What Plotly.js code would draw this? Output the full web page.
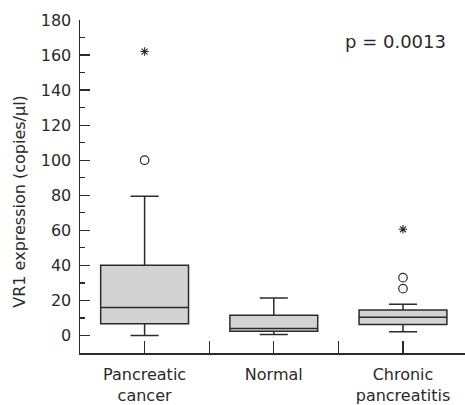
<!DOCTYPE html>
<html>
<head>
<meta charset="utf-8">
<script src="https://cdn.plot.ly/plotly-3.0.1.min.js"></script>
<style>html,body{margin:0;padding:0;background:#fff;}#chart{width:465px;height:405px;}</style>
</head>
<body>
<div id="chart"></div>
<script>
var categories = ["Pancreatic<br>cancer", "Normal", "Chronic<br>pancreatitis"];
var positions = [0, 1, 2];
var lowerWhisker = [0, 0.6, 2.1];
var q1 = [6.7, 2.4, 6.2];
var median = [16, 4.0, 10.4];
var q3 = [40, 11.5, 14.6];
var upperWhisker = [79.5, 21.4, 17.8];
var circleX = [0, 2, 2];
var circleY = [100, 26.7, 33];
var starX = [0, 2];
var starY = [162, 60.6];
var yTicks = [0, 20, 40, 60, 80, 100, 120, 140, 160, 180];

var lineCol = "#2b2b2b";
var font = "'DejaVu Sans', sans-serif";

var traces = [];
for (var i = 0; i < positions.length; i++) {
  traces.push({
    type: "box",
    x: [positions[i]],
    q1: [q1[i]], median: [median[i]], q3: [q3[i]],
    lowerfence: [lowerWhisker[i]], upperfence: [upperWhisker[i]],
    width: 0.68,
    whiskerwidth: 0.32,
    fillcolor: "#d3d3d3",
    line: {color: lineCol, width: 1.5},
    boxpoints: false,
    hoverinfo: "skip",
    showlegend: false
  });
}
traces.push({
  type: "scatter", mode: "markers", x: circleX, y: circleY,
  marker: {symbol: "circle-open", size: 8.5, color: lineCol, line: {width: 1.2, color: lineCol}},
  showlegend: false, hoverinfo: "skip"
});
traces.push({
  type: "scatter", mode: "markers", x: starX, y: starY,
  marker: {symbol: "asterisk-open", size: 7, color: lineCol, line: {width: 1.1, color: lineCol}},
  showlegend: false, hoverinfo: "skip"
});

var plotTop = 20, plotBottom = 353.5;
var layout = {
  width: 465, height: 405,
  margin: {l: 80, r: 0, t: plotTop, b: 405 - plotBottom},
  paper_bgcolor: "#fff", plot_bgcolor: "#fff",
  font: {family: font, size: 16, color: "#2a2a2a"},
  xaxis: {
    range: [-0.5, 2.48],
    tickvals: positions, ticktext: categories,
    ticks: "inside", ticklen: 12, tickcolor: lineCol, tickwidth: 1.3,
    minor: {dtick: 0.5, tick0: 0.5, ticks: "inside", ticklen: 12, tickcolor: lineCol, tickwidth: 1.3, showgrid: false},
    showline: true, linecolor: lineCol, linewidth: 1.5,
    showgrid: false, zeroline: false, fixedrange: true,
    ticklabelstandoff: 6,
    tickfont: {family: font, size: 16, color: "#2a2a2a"}
  },
  yaxis: {
    range: [-10, 180],
    tickvals: yTicks,
    ticks: "inside", ticklen: 10, tickcolor: lineCol, tickwidth: 1.3,
    minor: {dtick: 10, tick0: 0, ticks: "inside", ticklen: 5, tickcolor: lineCol, tickwidth: 1.3, showgrid: false},
    showline: true, linecolor: lineCol, linewidth: 1.5,
    showgrid: false, zeroline: false, fixedrange: true,
    ticklabelstandoff: 4,
    tickfont: {family: font, size: 16, color: "#2a2a2a"},
    title: {text: ""}
  },
  annotations: [
    {text: "p = 0.0013", xref: "paper", yref: "paper",
     x: (395 - 80) / 385, y: (plotBottom - 42) / (plotBottom - plotTop),
     xanchor: "center", yanchor: "middle",
     showarrow: false, font: {family: font, size: 18, color: "#2a2a2a"}},
    {text: "VR1 expression (copies/\u00b5l)", xref: "paper", yref: "paper",
     x: (20 - 80) / 385, y: (plotBottom - 202) / (plotBottom - plotTop), textangle: -90,
     xanchor: "center", yanchor: "middle", showarrow: false,
     font: {family: font, size: 16, color: "#2a2a2a"}}
  ]
};

Plotly.newPlot("chart", traces, layout, {displayModeBar: false, staticPlot: true});
</script>
</body>
</html>
